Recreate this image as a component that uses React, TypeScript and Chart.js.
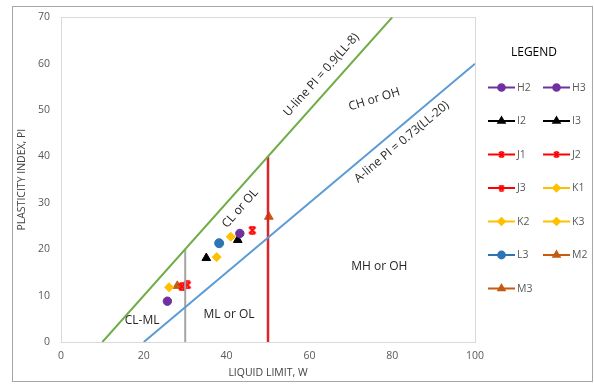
import React, { useEffect, useRef } from "react";
import { Chart, registerables } from "chart.js";
import { drawPoint } from "chart.js/helpers";

Chart.register(...registerables);

// ---- data ----
const seriesNames = ["H2", "H3", "I2", "I3", "J1", "J2", "J3", "K1", "K2", "K3", "L3", "M2", "M3"];
const liquidLimit = [25.7, 43.2, 35.1, 42.7, 29.3, 30.5, 46.2, 26.1, 37.6, 41.0, 38.2, 28.1, 50.2];
const plasticityIndex = [8.8, 23.4, 18.1, 22.0, 11.9, 12.3, 24.1, 11.8, 18.3, 22.7, 21.3, 12.1, 27.0];

const uLineLL = [10, 80];
const uLinePI = [0, 70];
const aLineLL = [20, 100];
const aLinePI = [0, 60];
const greyLineLL = [30, 30];
const greyLinePI = [0, 20];
const redLineLL = [50, 50];
const redLinePI = [0, 40];

const xTicks = [0, 20, 40, 60, 80, 100];
const yTicks = [0, 10, 20, 30, 40, 50, 60, 70];

// ---- styles ----
const seriesColors = ["#7030a0", "#7030a0", "#000000", "#000000", "#ff0000", "#ff0000", "#ff0000", "#ffc000", "#ffc000", "#ffc000", "#2e75b6", "#c55a11", "#c55a11"];
const seriesStyles = ["circle", "circle", "triangle", "triangle", "star", "star", "star", "rectRot", "rectRot", "rectRot", "circle", "triangle", "triangle"];
const seriesRadius = [4.2, 4.2, 5, 5, 4, 4, 4, 4.5, 4.5, 4.5, 4.5, 5, 5];
const legendRadius = [3.3, 3.3, 3.6, 3.6, 3, 3, 3, 3.4, 3.4, 3.4, 3.4, 3.6, 3.6];

const FONT = "'Open Sans', 'Liberation Sans', sans-serif";

const pts = (xs: number[], ys: number[]) => xs.map((x, i) => ({ x, y: ys[i] }));

function makeStar(color: string, size: number, lw: number): HTMLCanvasElement {
  const c = document.createElement("canvas");
  c.width = size;
  c.height = size;
  const g = c.getContext("2d")!;
  g.strokeStyle = color;
  g.lineWidth = lw;
  const m = lw / 2 + 0.2;
  g.beginPath();
  g.moveTo(m, m);
  g.lineTo(size - m, size - m);
  g.moveTo(size - m, m);
  g.lineTo(m, size - m);
  g.moveTo(m + 1, m);
  g.lineTo(size - m - 1, m);
  g.moveTo(m + 1, size - m);
  g.lineTo(size - m - 1, size - m);
  g.stroke();
  return c;
}

const labelsPlugin = {
  id: "customDecor",
  beforeDraw(chart: any) {
    const ctx = chart.ctx;
    ctx.save();
    ctx.fillStyle = "#ffffff";
    ctx.fillRect(0, 0, chart.width, chart.height);
    ctx.strokeStyle = "#a6a6a6";
    ctx.lineWidth = 1;
    ctx.strokeRect(12.5, 6.5, 580, 375);
    const a = chart.chartArea;
    ctx.strokeStyle = "#d9d9d9";
    ctx.strokeRect(Math.round(a.left) + 0.5, Math.round(a.top) + 0.5, Math.round(a.right - a.left), Math.round(a.bottom - a.top));
    ctx.restore();
  },
  afterDraw(chart: any) {
    const ctx = chart.ctx;
    const xs = chart.scales.x;
    const ys = chart.scales.y;
    const a = chart.chartArea;
    ctx.save();
    // axis titles
    ctx.fillStyle = "#404040";
    ctx.font = `10.5px ${FONT}`;
    ctx.textAlign = "center";
    ctx.textBaseline = "middle";
    ctx.fillText("LIQUID LIMIT, W", (a.left + a.right) / 2, 373);
    ctx.save();
    ctx.translate(22, (a.top + a.bottom) / 2);
    ctx.rotate(-Math.PI / 2);
    ctx.fillText("PLASTICITY INDEX, PI", 0, 0);
    ctx.restore();

    // region annotations
    const angleOf = (lx: number[], ly: number[]) => {
      const dx = xs.getPixelForValue(lx[1]) - xs.getPixelForValue(lx[0]);
      const dy = ys.getPixelForValue(ly[1]) - ys.getPixelForValue(ly[0]);
      return Math.atan2(dy, dx);
    };
    const uAng = angleOf(uLineLL, uLinePI);
    const aAng = angleOf(aLineLL, aLinePI);
    const txt = (s: string, x: number, y: number, rot: number, size = 12) => {
      ctx.save();
      ctx.translate(xs.getPixelForValue(x), ys.getPixelForValue(y));
      ctx.rotate(rot);
      ctx.font = `${size}px ${FONT}`;
      ctx.fillStyle = "#262626";
      ctx.textAlign = "center";
      ctx.textBaseline = "middle";
      ctx.fillText(s, 0, 0);
      ctx.restore();
    };
    txt("U-line PI = 0.9(LL-8)", 62.9, 57.6, uAng);
    txt("CH or OH", 75.7, 52.3, (-17 * Math.PI) / 180);
    txt("A-line PI = 0.73(LL-20)", 82.3, 43.1, aAng);
    txt("CL or OL", 43.3, 28.8, uAng);
    txt("CL-ML", 19.6, 4.7, 0);
    txt("ML or OL", 40.6, 5.9, 0);
    txt("MH or OH", 76.9, 16.2, 0);

    // legend
    ctx.fillStyle = "#000000";
    ctx.font = `12px ${FONT}`;
    ctx.textAlign = "center";
    ctx.fillText("LEGEND", 534, 53);
    seriesNames.forEach((name, i) => {
      const col = i % 2;
      const row = Math.floor(i / 2);
      const x0 = col === 0 ? 488 : 543;
      const y = 87.5 + row * 33.5;
      ctx.strokeStyle = seriesColors[i];
      ctx.fillStyle = seriesColors[i];
      ctx.lineWidth = 2;
      ctx.beginPath();
      ctx.moveTo(x0, y);
      ctx.lineTo(x0 + 27, y);
      ctx.stroke();
      if (seriesStyles[i] === "star") {
        const img = makeStar(seriesColors[i], 7, 1.5);
        ctx.drawImage(img, x0 + 13.5 - 3.5, y - 3.5);
      } else {
        drawPoint(ctx, { pointStyle: seriesStyles[i], radius: legendRadius[i], rotation: 0, borderWidth: 1 }, x0 + 13.5, y);
      }
      ctx.fillStyle = "#595959";
      ctx.font = `10.5px ${FONT}`;
      ctx.textAlign = "left";
      ctx.fillText(name, x0 + 29, y + 0.5);
    });
    ctx.restore();
  },
};

export default function App() {
  const ref = useRef<HTMLCanvasElement | null>(null);
  useEffect(() => {
    if (!ref.current) return;
    const lineDs = (xsArr: number[], ysArr: number[], color: string, w: number) => ({
      data: pts(xsArr, ysArr),
      showLine: true,
      borderColor: color,
      borderWidth: w,
      pointRadius: 0,
      pointHoverRadius: 0,
      fill: false,
    });
    const scatterDs = seriesNames.map((name, i) => ({
      label: name,
      data: [{ x: liquidLimit[i], y: plasticityIndex[i] }],
      showLine: false,
      pointStyle: seriesStyles[i] === "star" ? makeStar(seriesColors[i], 9, 2) : seriesStyles[i],
      pointRadius: seriesRadius[i],
      backgroundColor: seriesColors[i],
      borderColor: seriesColors[i],
      pointBorderWidth: 1,
    }));
    const chart = new Chart(ref.current, {
      type: "scatter",
      data: {
        datasets: [
          lineDs(uLineLL, uLinePI, "#70ad47", 2),
          lineDs(aLineLL, aLinePI, "#5b9bd5", 2),
          lineDs(greyLineLL, greyLinePI, "#a5a5a5", 2),
          lineDs(redLineLL, redLinePI, "#d9262c", 2.5),
          ...scatterDs,
        ] as any,
      },
      options: {
        animation: false,
        responsive: false,
        devicePixelRatio: 1,
        layout: { padding: { left: 0, top: 14, right: 119, bottom: 0 } },
        plugins: { legend: { display: false }, tooltip: { enabled: false } },
        scales: {
          x: {
            type: "linear",
            min: 0,
            max: 100,
            afterBuildTicks: (s: any) => { s.ticks = xTicks.map((v) => ({ value: v })); },
            afterFit: (s: any) => { s.height = 42; },
            grid: { display: false, drawTicks: false },
            border: { display: false },
            ticks: { padding: 8, color: "#595959", font: { family: FONT, size: 10.5 }, maxRotation: 0 },
          },
          y: {
            type: "linear",
            min: 0,
            max: 70,
            afterBuildTicks: (s: any) => { s.ticks = yTicks.map((v) => ({ value: v })); },
            afterFit: (s: any) => { s.width = 61; },
            grid: { display: false, drawTicks: false },
            border: { display: false },
            ticks: { padding: 11, color: "#595959", font: { family: FONT, size: 10.5 } },
          },
        },
      } as any,
      plugins: [labelsPlugin],
    });
    return () => chart.destroy();
  }, []);
  return (
    <div style={{ position: "fixed", left: 0, top: 0, width: 594, height: 384, background: "#fff" }}>
      <canvas ref={ref} width={594} height={384} style={{ display: "block", width: 594, height: 384 }} />
    </div>
  );
}
